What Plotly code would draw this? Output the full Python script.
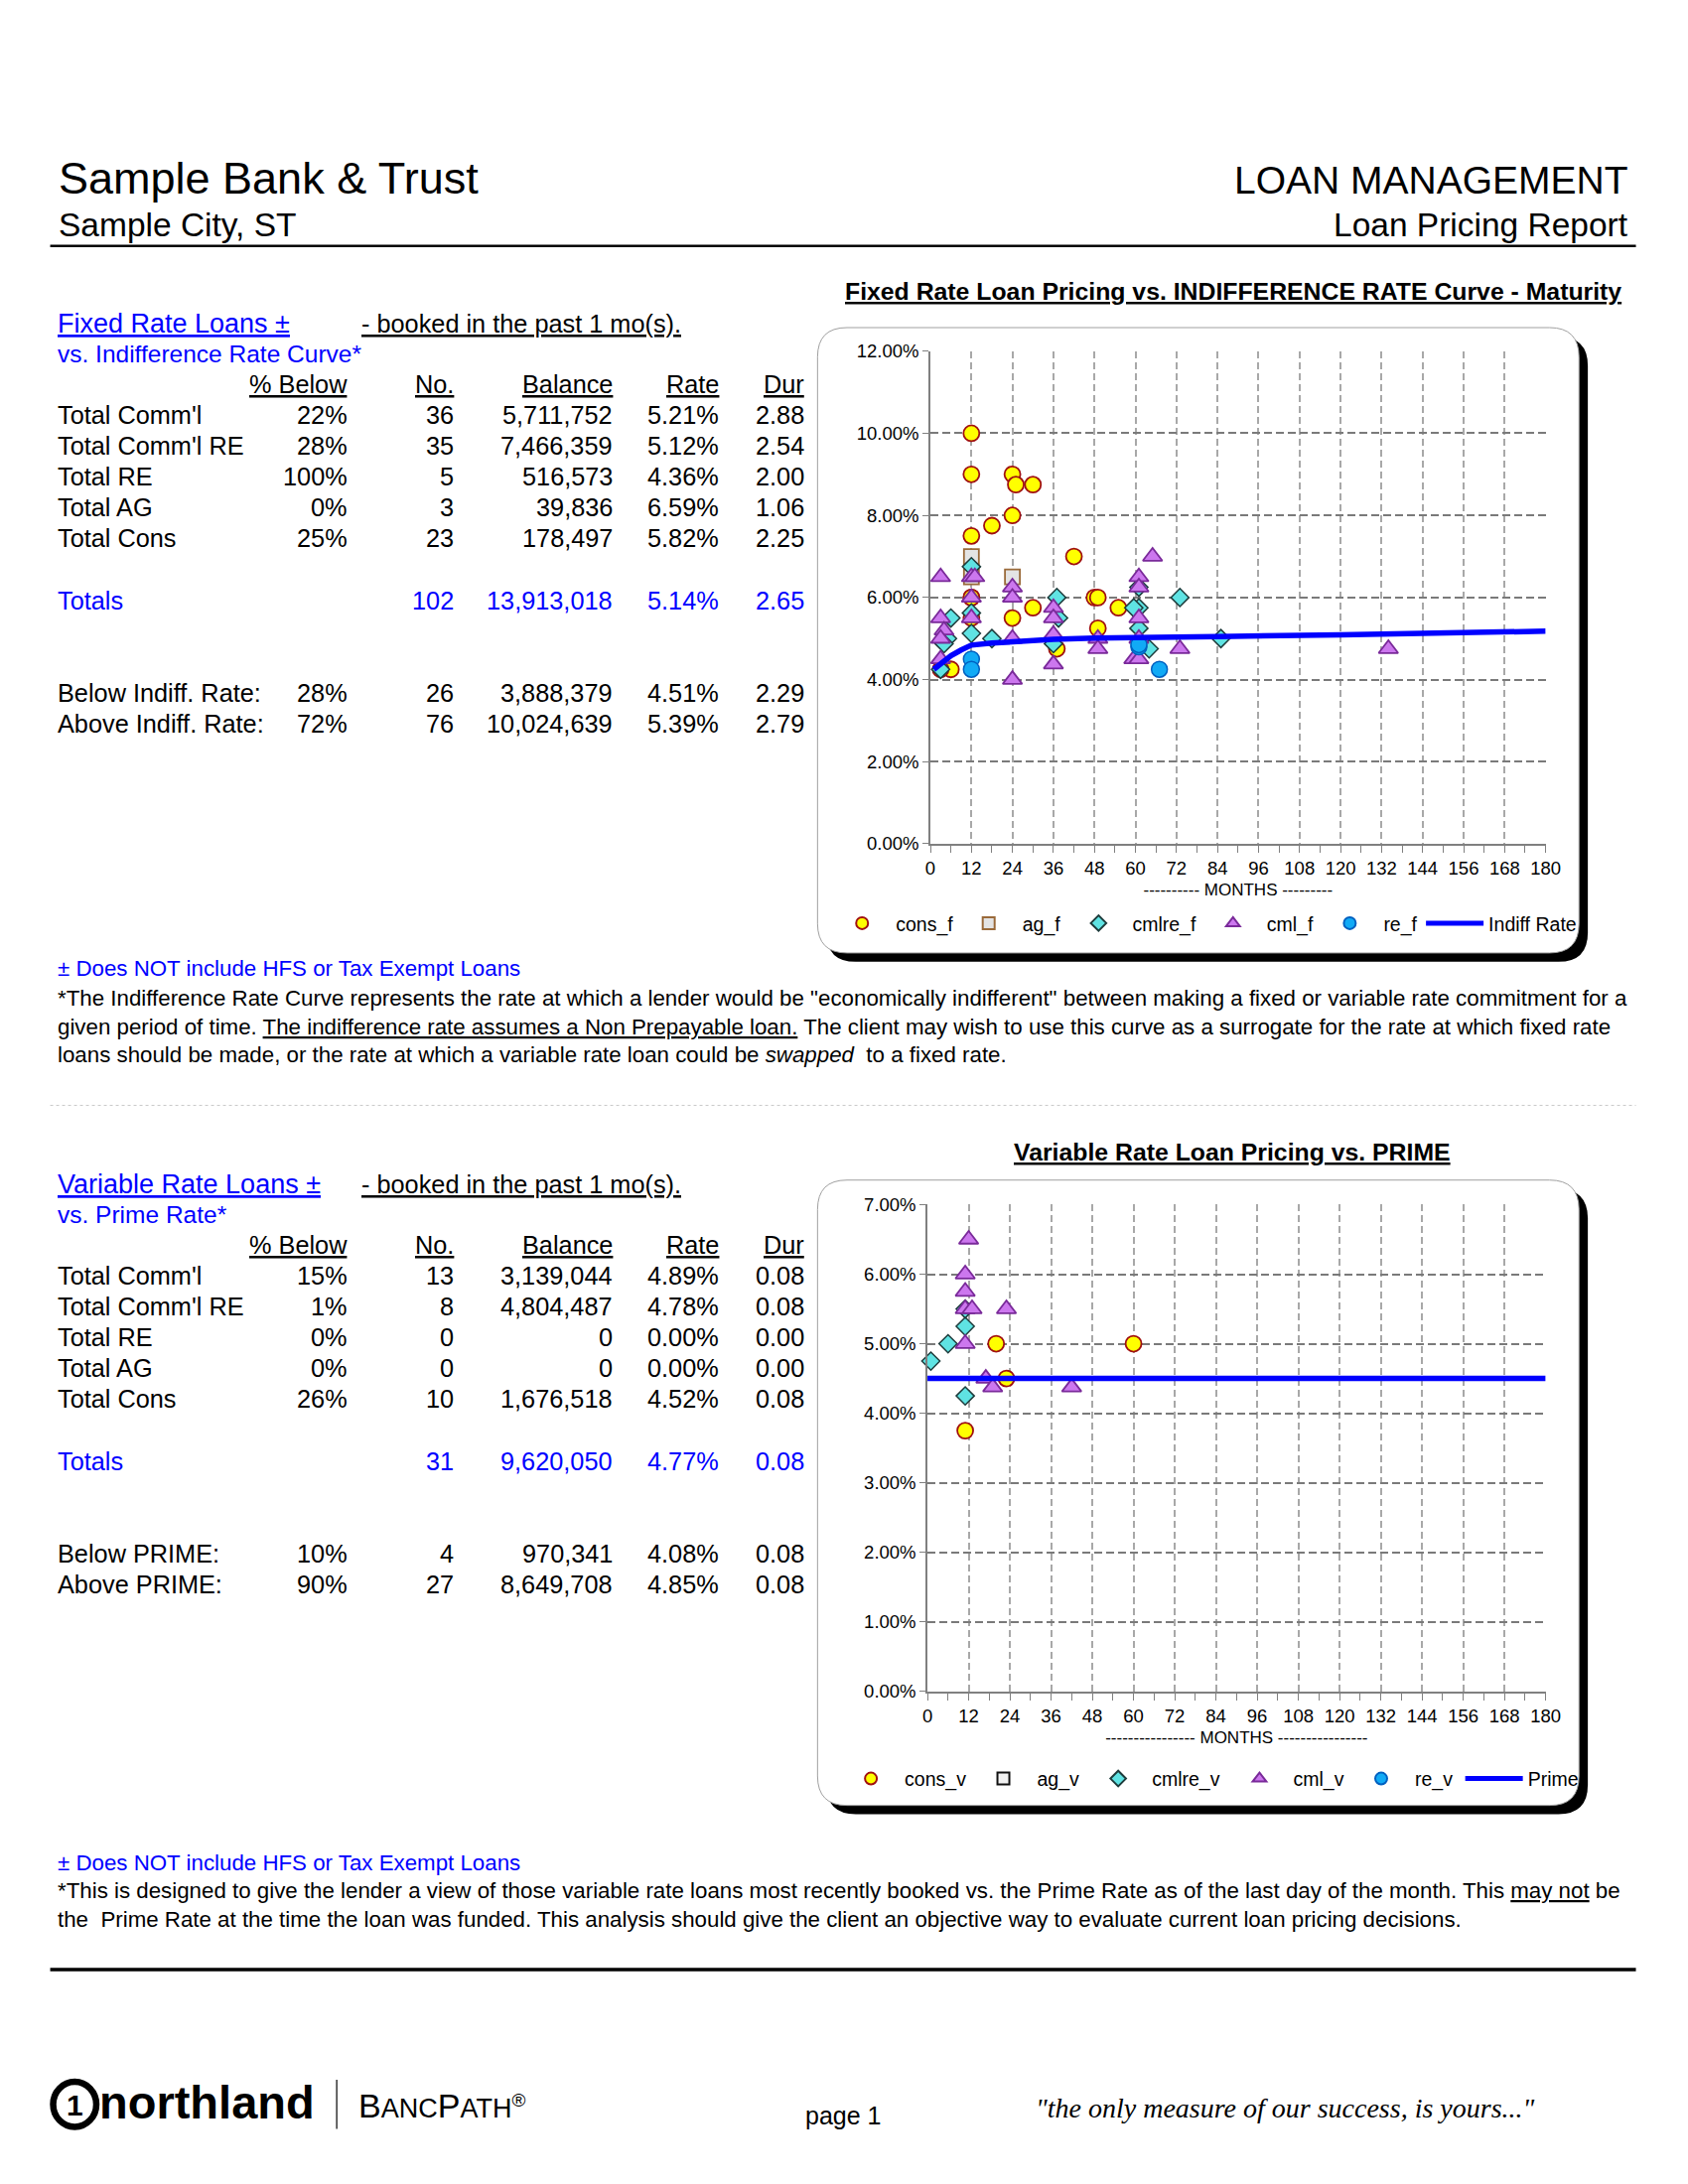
import plotly.graph_objects as go

W, H = 1700, 2200
FONT = "Liberation Sans, Arial, Helvetica, sans-serif"
BLUE_TXT = "#0000FF"

def X(px):
    return px / W

def Y(py):
    return 1 - py / H

# ---------------- DATA ----------------
# Fixed rate chart (months to maturity, rate %)
cons_f_months = [12, 12, 24, 25, 30, 24, 18, 12, 42, 48, 49, 12, 30, 55, 24, 12, 49, 37, 6, 3, 12]
cons_f_rates = [10.0, 9.0, 9.0, 8.75, 8.75, 8.0, 7.75, 7.5, 7.0, 6.0, 6.0, 6.0, 5.75, 5.75, 5.5, 5.5, 5.25, 4.75, 4.25, 4.25, 6.0]
ag_f_months = [12, 12, 24]
ag_f_rates = [7.0, 6.5, 6.5]
cmlre_f_months = [12, 12, 12, 6, 5, 4, 3, 18, 37, 36, 37.5, 61, 59.5, 61, 64, 73, 85, 61]
cmlre_f_rates = [6.75, 5.625, 5.125, 5.5, 5.0, 4.875, 4.25, 5.0, 6.0, 4.875, 5.5, 5.75, 5.75, 6.25, 4.75, 6.0, 5.0, 5.25]
cml_f_months = [3, 3, 4, 3, 3, 12, 13, 12, 12, 24, 24, 24, 24, 36, 36, 36, 36, 49, 49, 61, 61, 61, 61, 59.5, 61, 65, 73, 134]
cml_f_rates = [6.5, 5.5, 5.2, 5.0, 4.5, 6.5, 6.5, 6.0, 5.5, 6.25, 6.0, 5.0, 4.0, 5.75, 5.5, 5.1, 4.375, 5.0, 4.75, 6.5, 6.25, 5.5, 5.0, 4.5, 4.5, 7.0, 4.75, 4.75]
re_f_months = [12, 12, 61, 67, 61]
re_f_rates = [4.5, 4.25, 4.8, 4.25, 4.85]
indiff_months = [1, 3, 6, 9, 12, 18, 24, 36, 48, 60, 84, 120, 180]
indiff_rates = [4.25, 4.4, 4.58, 4.72, 4.84, 4.89, 4.93, 4.98, 5.01, 5.03, 5.05, 5.09, 5.18]

# Variable rate chart
cons_v_months = [11, 20, 23, 60]
cons_v_rates = [3.75, 5.0, 4.5, 5.0]
ag_v_months = [None]
ag_v_rates = [None]
cmlre_v_months = [1, 6, 11, 11, 11]
cmlre_v_rates = [4.75, 5.0, 5.25, 4.25, 5.5]
cml_v_months = [12, 11, 11, 11, 13, 11, 23, 17, 19, 42]
cml_v_rates = [6.5, 6.0, 5.75, 5.5, 5.5, 5.0, 5.5, 4.5, 4.375, 4.375]
re_v_months = [None]
re_v_rates = [None]
prime_months = [0, 180]
prime_rates = [4.5, 4.5]

# Tables
row_labels = ["Total Comm'l", "Total Comm'l RE", "Total RE", "Total AG", "Total Cons"]
fixed_pct_below = ["22%", "28%", "100%", "0%", "25%"]
fixed_no = [36, 35, 5, 3, 23]
fixed_balance = [5711752, 7466359, 516573, 39836, 178497]
fixed_rate = [5.21, 5.12, 4.36, 6.59, 5.82]
fixed_dur = [2.88, 2.54, 2.00, 1.06, 2.25]
fixed_totals = [102, 13913018, 5.14, 2.65]
fixed_split_labels = ["Below Indiff. Rate:", "Above Indiff. Rate:"]
fixed_split_pct = ["28%", "72%"]
fixed_split_no = [26, 76]
fixed_split_balance = [3888379, 10024639]
fixed_split_rate = [4.51, 5.39]
fixed_split_dur = [2.29, 2.79]

var_pct_below = ["15%", "1%", "0%", "0%", "26%"]
var_no = [13, 8, 0, 0, 10]
var_balance = [3139044, 4804487, 0, 0, 1676518]
var_rate = [4.89, 4.78, 0.00, 0.00, 4.52]
var_dur = [0.08, 0.08, 0.00, 0.00, 0.08]
var_totals = [31, 9620050, 4.77, 0.08]
var_split_labels = ["Below PRIME:", "Above PRIME:"]
var_split_pct = ["10%", "90%"]
var_split_no = [4, 27]
var_split_balance = [970341, 8649708]
var_split_rate = [4.08, 4.85]
var_split_dur = [0.08, 0.08]

col_headers = ["% Below", "No.", "Balance", "Rate", "Dur"]

# ---------------- STYLES ----------------
STY = {
    "cons": dict(symbol="circle", size=16, color="#FFFF00", line=dict(color="#A01010", width=1.8)),
    "ag_f": dict(symbol="square", size=15, color="#E4E4E4", line=dict(color="#9A6A3A", width=1.8)),
    "ag_v": dict(symbol="square", size=14, color="#F2F2F2", line=dict(color="#111111", width=1.8)),
    "cmlre": dict(symbol="diamond", size=14, color="#5FE3E3", line=dict(color="#1E3C3C", width=1.5)),
    "cml": dict(symbol="triangle-up", size=17, color="#CC77EE", line=dict(color="#7A2A9A", width=1.8)),
    "re": dict(symbol="circle", size=16, color="#11AAF5", line=dict(color="#0060C0", width=1.5)),
}

fig = go.Figure()
legend_defs = {}
leg_counter = [0]

def next_legend(px, py):
    leg_counter[0] += 1
    key = "legend" if leg_counter[0] == 1 else f"legend{leg_counter[0]}"
    legend_defs[key] = (px, py)
    return key

def add_pts(xs, ys, name, sty, xa, ya, lx, ly):
    fig.add_trace(go.Scatter(x=xs, y=ys, mode="markers", name=name, marker=sty,
                             xaxis=xa, yaxis=ya, legend=next_legend(lx, ly), showlegend=True,
                             cliponaxis=False))

def add_line(xs, ys, name, xa, ya, lx, ly):
    fig.add_trace(go.Scatter(x=xs, y=ys, mode="lines", name=name,
                             line=dict(color="#0000FF", width=5.5), xaxis=xa, yaxis=ya,
                             legend=next_legend(lx, ly), showlegend=True))

LT = 920   # top legend row (px)
LB = 1790  # bottom legend row (px)
add_pts(cons_f_months, cons_f_rates, "cons_f", STY["cons"], "x", "y", 831, LT)
add_pts(ag_f_months, ag_f_rates, "ag_f", STY["ag_f"], "x", "y", 960, LT)
add_pts(cmlre_f_months, cmlre_f_rates, "cmlre_f", STY["cmlre"], "x", "y", 1072, LT)
add_pts(cml_f_months, cml_f_rates, "cml_f", STY["cml"], "x", "y", 1209, LT)
add_pts(re_f_months, re_f_rates, "re_f", STY["re"], "x", "y", 1328, LT)
add_line(indiff_months, indiff_rates, "Indiff Rate", "x", "y", 1435, LT)

add_pts(cons_v_months, cons_v_rates, "cons_v", STY["cons"], "x2", "y2", 840, LB)
add_pts(ag_v_months, ag_v_rates, "ag_v", STY["ag_v"], "x2", "y2", 975, LB)
add_pts(cmlre_v_months, cmlre_v_rates, "cmlre_v", STY["cmlre"], "x2", "y2", 1092, LB)
add_pts(cml_v_months, cml_v_rates, "cml_v", STY["cml"], "x2", "y2", 1236, LB)
add_pts(re_v_months, re_v_rates, "re_v", STY["re"], "x2", "y2", 1360, LB)
add_line(prime_months, prime_rates, "Prime", "x2", "y2", 1475, LB)

def xaxis_cfg(dom, title):
    return dict(domain=dom, range=[0, 180], dtick=12, tick0=0, showgrid=True,
                gridcolor="#A8A8A8", griddash="7px,4px", gridwidth=1.6,
                showline=True, linecolor="#808080", linewidth=1.5,
                ticks="outside", ticklen=7, tickcolor="#808080", tickwidth=1.2,
                minor=dict(dtick=6, ticks="outside", ticklen=7, tickcolor="#808080", showgrid=False),
                tickfont=dict(size=18.5, color="#000000", family=FONT), zeroline=False,
                title=dict(text=title, font=dict(size=17, color="#000000", family=FONT), standoff=6))

def yaxis_cfg(dom, rng, dt):
    return dict(domain=dom, range=rng, dtick=dt, tick0=0, showgrid=True,
                gridcolor="#7A7A7A", griddash="8px,4px", gridwidth=2.2,
                showline=True, linecolor="#808080", linewidth=1.5,
                ticks="outside", ticklen=6, tickcolor="#808080",
                ticksuffix="%", tickformat=".2f",
                tickfont=dict(size=18.5, color="#000000", family=FONT), zeroline=False)

top_x = [X(935), X(1562)]
top_y = [Y(839), Y(338)]
bot_x = [X(932), X(1562)]
bot_y = [Y(1701), Y(1206)]

shapes = []

def rrect_path(x0, y0, x1, y1, r):
    p = (f"M {X(x0+r)},{Y(y0)} L {X(x1-r)},{Y(y0)} Q {X(x1)},{Y(y0)} {X(x1)},{Y(y0+r)} "
         f"L {X(x1)},{Y(y1-r)} Q {X(x1)},{Y(y1)} {X(x1-r)},{Y(y1)} "
         f"L {X(x0+r)},{Y(y1)} Q {X(x0)},{Y(y1)} {X(x0)},{Y(y1-r)} "
         f"L {X(x0)},{Y(y0+r)} Q {X(x0)},{Y(y0)} {X(x0+r)},{Y(y0)} Z")
    return p

for (fx0, fy0, fx1, fy1) in [(820, 314, 1596, 950), (820, 1181, 1596, 1817)]:
    shapes.append(dict(type="path", xref="paper", yref="paper", layer="below",
                       path=rrect_path(fx0 + 9, fy0 + 9, fx1 + 9, fy1 + 9, 30),
                       fillcolor="#000000", line=dict(width=0)))
    shapes.append(dict(type="path", xref="paper", yref="paper", layer="below",
                       path=rrect_path(fx0, fy0, fx1, fy1, 30),
                       fillcolor="#FFFFFF", line=dict(color="#A0A0A0", width=1)))

# header and separator lines
shapes.append(dict(type="line", xref="paper", yref="paper", x0=X(38), x1=X(1654), y0=Y(231), y1=Y(231),
                   line=dict(color="#000000", width=2.5)))
shapes.append(dict(type="line", xref="paper", yref="paper", x0=X(38), x1=X(1654), y0=Y(1105), y1=Y(1105),
                   line=dict(color="#C8C8C8", width=1, dash="dot")))
shapes.append(dict(type="line", xref="paper", yref="paper", x0=X(38), x1=X(1654), y0=Y(1984), y1=Y(1984),
                   line=dict(color="#000000", width=3.5)))
# logo pieces
shapes.append(dict(type="circle", xref="paper", yref="paper", x0=X(41), x1=X(85), y0=Y(2144), y1=Y(2098),
                   line=dict(color="#000000", width=6.5), fillcolor="#FFFFFF"))
shapes.append(dict(type="line", xref="paper", yref="paper", x0=X(330), x1=X(330), y0=Y(2096), y1=Y(2146),
                   line=dict(color="#000000", width=1.2)))

ann = []

def txt(px, py, s, size, color="#000000", anchor="left", family=FONT, va="middle"):
    ann.append(dict(x=X(px), y=Y(py), xref="paper", yref="paper", text=s, showarrow=False,
                    xanchor=anchor, yanchor=va, font=dict(size=size, color=color, family=family)))

# Header
txt(45, 162, "Sample Bank &amp; Trust", 45)
txt(45, 209, "Sample City, ST", 33.5)
txt(1648, 164, "LOAN MANAGEMENT", 39, anchor="right")
txt(1648, 209, "Loan Pricing Report", 33.5, anchor="right")

# Chart titles
txt(1244, 277, "<b><u>Fixed Rate Loan Pricing vs. INDIFFERENCE RATE Curve - Maturity</u></b>", 24.8, anchor="center")
txt(1243, 1152, "<b><u>Variable Rate Loan Pricing vs. PRIME</u></b>", 24.8, anchor="center")

COLX = [343, 451, 613, 721, 809]
TS = 25.3
RS = 31.2

def fmt_int(v):
    return f"{v:,}"

def draw_table(y_title, title, subtitle, pct, no, bal, rate, dur, totals, s_lab, s_pct, s_no, s_bal, s_rate, s_dur,
               hy, totals_y, split_y):
    txt(44, y_title, f"<u>{title}</u>", 27, color=BLUE_TXT)
    txt(353, y_title, "<u>- booked in the past 1 mo(s).</u>", 25.3)
    txt(44, y_title + 31, subtitle, 24.5, color=BLUE_TXT)
    for cx, h in zip(COLX, col_headers):
        txt(cx, hy, f"<u>{h}</u>", TS, anchor="right")
    for i, lab in enumerate(row_labels):
        ry = hy + RS * (i + 1)
        txt(44, ry, lab, TS)
        vals = [pct[i], str(no[i]), fmt_int(bal[i]), f"{rate[i]:.2f}%", f"{dur[i]:.2f}"]
        for cx, v in zip(COLX, vals):
            txt(cx, ry, v, TS, anchor="right")
    txt(44, totals_y, "Totals", TS, color=BLUE_TXT)
    tv = [str(totals[0]), fmt_int(totals[1]), f"{totals[2]:.2f}%", f"{totals[3]:.2f}"]
    for cx, v in zip(COLX[1:], tv):
        txt(cx, totals_y, v, TS, anchor="right", color=BLUE_TXT)
    for j in range(2):
        ry = split_y + RS * j
        txt(44, ry, s_lab[j], TS)
        vals = [s_pct[j], str(s_no[j]), fmt_int(s_bal[j]), f"{s_rate[j]:.2f}%", f"{s_dur[j]:.2f}"]
        for cx, v in zip(COLX, vals):
            txt(cx, ry, v, TS, anchor="right")

draw_table(310, "Fixed Rate Loans ±", "vs. Indifference Rate Curve*", fixed_pct_below, fixed_no, fixed_balance,
           fixed_rate, fixed_dur, fixed_totals, fixed_split_labels, fixed_split_pct, fixed_split_no,
           fixed_split_balance, fixed_split_rate, fixed_split_dur, 372, 592, 686)
draw_table(1185, "Variable Rate Loans ±", "vs. Prime Rate*", var_pct_below, var_no, var_balance,
           var_rate, var_dur, var_totals, var_split_labels, var_split_pct, var_split_no,
           var_split_balance, var_split_rate, var_split_dur, 1247, 1467, 1561)

# Notes
NS = 22.3
txt(44, 966, "± Does NOT include HFS or Tax Exempt Loans", NS, color=BLUE_TXT)
txt(44, 996, '*The Indifference Rate Curve represents the rate at which a lender would be "economically indifferent" between making a fixed or variable rate commitment for a', NS)
txt(44, 1025, 'given period of time. <u>The indifference rate assumes a Non Prepayable loan.</u> The client may wish to use this curve as a surrogate for the rate at which fixed rate', NS)
txt(44, 1054, 'loans should be made, or the rate at which a variable rate loan could be <i>swapped</i>  to a fixed rate.', NS)

txt(44, 1875, "± Does NOT include HFS or Tax Exempt Loans", NS, color=BLUE_TXT)
txt(44, 1904, '*This is designed to give the lender a view of those variable rate loans most recently booked vs. the Prime Rate as of the last day of the month. This <u>may not</u> be', NS)
txt(44, 1933, 'the  Prime Rate at the time the loan was funded. This analysis should give the client an objective way to evaluate current loan pricing decisions.', NS)

# Footer
txt(63, 2122, "<b>1</b>", 30, anchor="center")
txt(86, 2119, "<b>northland</b>", 47, family="Liberation Sans Narrow, Liberation Sans, Arial, sans-serif")
txt(350, 2122, "<span style='font-size:34px'>B</span>ANC<span style='font-size:34px'>P</span>ATH<sup>®</sup>", 27,
    family="Liberation Sans Narrow, Liberation Sans, Arial, sans-serif")
txt(846, 2132, "page 1", 25, anchor="center")
txt(1297, 2125, "<i>\"the only measure of our success, is yours...\"</i>", 28, anchor="center",
    family="Liberation Serif, DejaVu Serif, serif")

leg_common = dict(orientation="h", bgcolor="rgba(0,0,0,0)", borderwidth=0,
                  font=dict(size=19.5, color="#000000", family=FONT),
                  xanchor="left", yanchor="middle",
                  itemwidth=58, itemsizing="constant", traceorder="normal", tracegroupgap=0)

legend_layout = {k: dict(leg_common, x=X(px), y=Y(py)) for k, (px, py) in legend_defs.items()}

fig.update_layout(
    width=W, height=H, margin=dict(l=0, r=0, t=0, b=0),
    paper_bgcolor="#FFFFFF", plot_bgcolor="rgba(0,0,0,0)",
    font=dict(family=FONT, color="#000000"),
    xaxis=dict(xaxis_cfg(top_x, "---------- MONTHS ---------"), anchor="y"),
    yaxis=dict(yaxis_cfg(top_y, [0, 12], 2), anchor="x"),
    xaxis2=dict(xaxis_cfg(bot_x, "---------------- MONTHS ----------------"), anchor="y2"),
    yaxis2=dict(yaxis_cfg(bot_y, [0, 7], 1), anchor="x2"),
    shapes=shapes, annotations=ann, showlegend=True,
    **legend_layout,
)

fig.write_html("out.html")
